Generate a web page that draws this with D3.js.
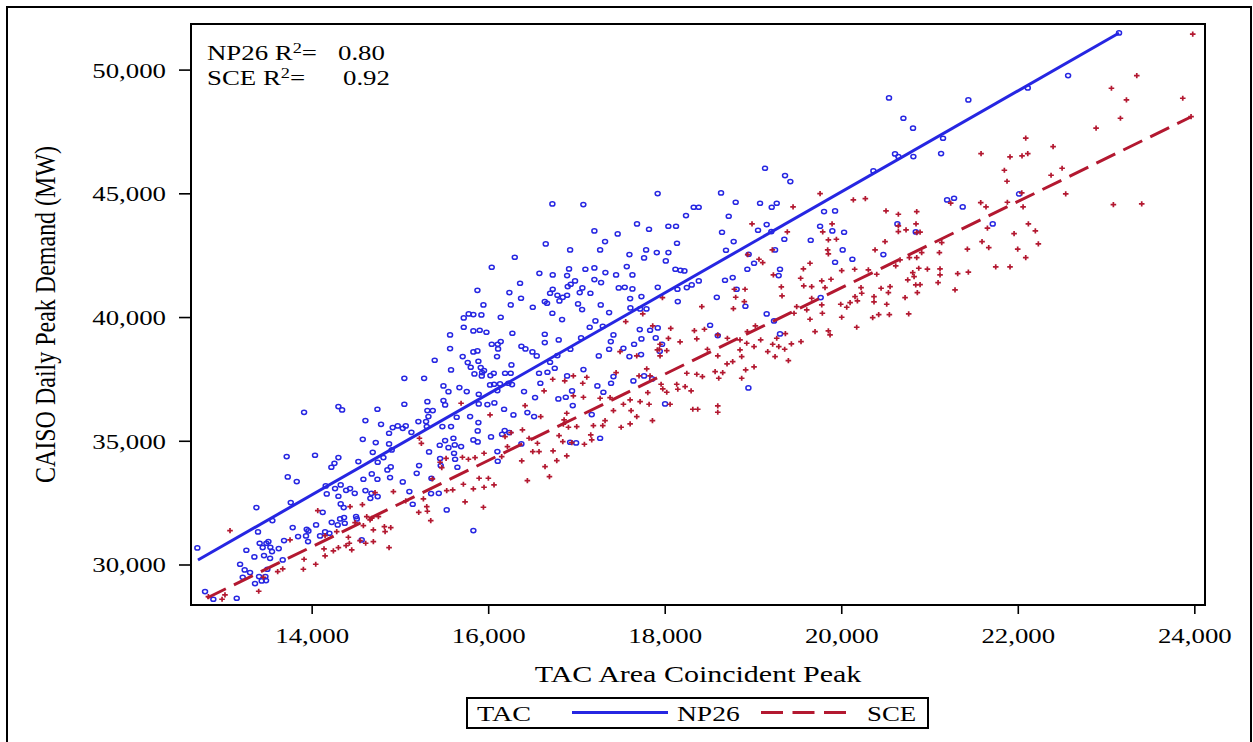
<!DOCTYPE html>
<html>
<head>
<meta charset="utf-8">
<script src="https://cdn.jsdelivr.net/npm/d3@7"></script>
<style>
  body { margin: 0; background: #fff; }
  svg { display: block; }
  text { font-family: "Liberation Serif", "Times New Roman", serif; fill: #000; }
</style>
</head>
<body>
<svg id="chart"></svg>
<script>
// TAC area coincident peak (x) vs CAISO daily peak demand (y)
const np26Points = [
  [15050,37525],[15274,37525],[15493,37215],[15550,36986],[13914,36151],[14303,36380],[14345,36246],[14745,36273],
  [15050,36475],[15311,36582],[15493,36623],[15512,36448],[15311,36219],[15372,36219],[15323,35976],[14609,35815],
  [14786,35666],[14918,35532],[14975,35599],[15032,35505],[15066,35599],[15130,35343],[15209,35774],[15296,35774],
  [15304,35572],[15481,35572],[14579,35060],[14726,34926],[14877,35303],[14877,34872],[14907,34629],[14692,34535],
  [14813,34319],[14748,34131],[14529,34158],[14303,34319],[14258,34090],[14223,33929],[14038,34414],[13717,34360],
  [13729,33538],[13831,33350],[14896,33942],[14858,33821],[14888,33511],[14681,33659],[14586,33444],[14745,33444],
  [15032,33336],[15190,33686],[15217,33996],[15330,34548],[15451,34818],[15512,35006],[15550,34723],[15455,34279],
  [15462,33996],[14159,33174],[14171,32851],[14265,33067],[14329,33215],[14390,32999],[14435,33067],[14488,32878],
  [14609,32986],[14677,32878],[14665,32676],[14748,32743],[14303,32757],[14329,32447],[14363,32299],[14125,32110],
  [13555,31774],[13374,32299],[13763,32501],[15107,32945],[15145,32434],[15357,33484],[15353,32865],[15440,32878],
  [15530,32205],[14322,31841],[14367,31895],[14503,31935],[14511,31841],[14375,31666],[14227,31706],[14050,31598],
  [13944,31423],[13963,31356],[14152,31316],[13785,31491],[13392,31316],[13846,31127],[13936,31154],[13959,30925],
  [14095,31154],[14201,31262],[13687,30965],[13627,30642],[13510,30925],[13487,30858],[13411,30858],[13445,30683],
  [13532,30696],[13551,30521],[13260,30575],[13351,30305],[13460,30359],[13529,30251],[13672,30184],[13189,30009],
  [13241,29780],[13302,29672],[13498,29807],[13404,29511],[13476,29511],[13434,29336],[13483,29349],[13358,29228],
  [13219,29484],[12792,28905],[12886,28595],[13151,28635],[12705,30669],[14567,30992],[14295,31598],
  [16301,42416],[16928,42712],[17268,42712],[17600,42523],[17789,42712],[17910,42604],[18042,42604],[17766,42389],
  [18012,42268],[16040,42012],[16580,41769],[16731,41702],[16916,41944],[17101,41931],[17203,41985],[17328,41796],
  [17449,41702],[17570,42038],[17634,41702],[16894,41675],[16984,41459],[16935,41325],[16901,41230],[17067,41177],
  [17037,40988],[17158,40961],[17203,41513],[17279,41392],[17479,41177],[17547,41203],[17634,41136],[17921,41203],
  [18121,41931],[18178,41890],[18223,41863],[18386,41459],[18306,41298],[18250,41190],[18144,41123],[18148,40624],
  [18590,40799],[15878,41082],[16361,41365],[16240,40988],[16372,40759],[16701,40961],[16731,41123],[16784,40880],
  [16894,40880],[16641,40624],[16667,40557],[16807,40651],[16845,40799],[17018,40530],[17064,40301],[17275,40490],
  [17608,40746],[17736,40826],[17611,40368],[17721,40328],[17793,40328],[16505,40395],[16255,40490],[15946,40490],
  [16727,40153],[16837,39897],[17215,39843],[17150,39587],[17370,40180],[17298,39627],[17717,39493],[17834,39466],
  [17921,39560],[17419,39277],[17389,39008],[17370,38698],[17532,38738],[17600,38402],[17653,38900],[17736,39116],
  [17898,39156],[17970,38900],[17944,38617],[17732,38482],[18514,39668],[18601,39250],[15723,39964],[15779,40126],
  [15832,40099],[15923,40085],[16142,39991],[15723,39587],[15832,39439],[15904,39466],[15980,39385],[16274,39345],
  [16641,39304],[16641,38967],[16799,39075],[17052,39156],[16931,38698],[16784,38442],[16701,38173],[16754,37930],
  [17079,37876],[17253,38429],[16376,38819],[16422,38711],[16501,38590],[16550,38429],[15568,39277],[15568,38725],
  [15394,38254],[15711,38402],[15832,38590],[15878,38630],[16142,39008],[16108,38900],[16040,38900],[16112,38711],
  [16100,38402],[15768,38159],[15889,38213],[15802,37971],[15915,37957],[16263,38065],[15953,37836],[15844,37701],
  [15931,37755],[15927,37620],[16025,37634],[16063,37728],[16191,37728],[16255,37728],[16576,37728],[16671,37769],
  [16591,37324],[16894,37620],[15579,37863],[15674,37149],[15757,36987],[15893,36880],[16021,37257],[16066,37284],
  [16104,37028],[16134,37297],[16229,37324],[16270,37270],[16406,36987],[16531,36745],[16795,36691],[16879,36758],
  [16950,37014],[16958,36422],[17305,36960],[17645,37418],[17766,37620],[17857,37499],[17392,37324],[17419,37593],
  [17237,37216],[17173,36058],[17268,35101],[16928,34940],[16996,34913],[16180,36273],[16286,36044],[16444,36139],
  [16520,35977],[15991,36462],[16070,36529],[15893,36489],[15643,35950],[15795,35977],[15889,35735],[15881,35398],
  [16032,35155],[16157,35263],[16187,35411],[16240,35330],[16376,34872],[16104,34563],[16108,34172],[15832,35034],
  [15881,34953],[15579,35573],[15606,35101],[15621,34832],[15693,34765],[15613,34495],[15625,34253],[15651,33929],
  [15832,31370],[18004,36489],
  [19136,46013],[19363,45717],[19423,45474],[17920,44989],[18638,45016],[18328,44437],[18385,44437],[18804,44639],
  [19080,44599],[19212,44437],[19269,44599],[18241,44100],[18725,44073],[19805,44262],[19930,44289],[17822,43548],
  [18041,43669],[18128,43669],[18649,43427],[19057,43508],[19155,43737],[19208,43454],[19355,43144],[19654,43104],
  [19760,43669],[19899,43481],[20032,43427],[18139,42982],[18781,43050],[18694,42700],[20016,42713],[20126,42336],
  [19930,42215],[20477,42524],[20609,46592],[20647,46485],[20817,46485],[20364,45905],[20636,43764],[20844,43440],
  [18951,42538],[19012,42174],[18936,41932],[19250,42713],[19306,41932],[19291,41676],[18770,41595],[18683,41487],
  [18815,41124],[18914,40437],[19155,40127],[19238,39844],[19306,39319],[18948,37136],[19767,40787],
  [22570,49759],[22113,49261],[21440,48776],[20704,48035],[20813,47631],[21153,47226],[21131,46607],[21199,44735],
  [21278,44802],[21376,44452],[22014,44977],[21716,43765],[23147,51483],[20541,48856],
  [16727,44573],[17078,44546],[17203,43482],[17324,43050],[17467,43360],[17686,43765],[16652,42956]
];

const scePoints = [
  [13075,31369],[12985,28595],[13400,28918],[13453,29484],[13615,29713],[13672,29820],[13755,30992],[13906,29807],
  [13914,30211],[14046,30009],[14152,30346],[14140,30629],[14246,30548],[14303,30683],[14390,30763],[14454,30588],
  [14416,31100],[14427,30858],[14548,30965],[14612,30858],[14699,30925],[14877,30683],[14069,32178],[14152,31167],
  [14284,31329],[14435,32339],[14575,32420],[14492,31693],[14586,31571],[14624,31935],[14662,31800],[14699,31396],
  [14824,31531],[14832,31329],[14896,31491],[14926,32945],[14718,32905],[14681,31868],[14756,31935],[15066,32568],
  [15213,32110],[15311,32151],[15266,32649],[15349,31774],[15304,32339],[15368,33457],[15455,34131],[15523,34292],
  [15474,33915],[15221,35101],[15243,34898],[15530,32986],[13018,28770],[12830,28700],
  [17974,40786],[18420,40422],[17751,40126],[17558,39816],[17864,39641],[18068,39546],[18336,39452],[18450,39506],
  [18601,39277],[18042,39142],[18174,38994],[18363,39116],[17947,38900],[17940,38698],[18023,38644],[17917,38671],
  [17494,38604],[17683,38429],[17947,38429],[18484,38698],[18601,38429],[17796,37903],[17449,37755],[17709,37620],
  [17834,37620],[18250,37728],[18363,37688],[18427,37593],[18571,37796],[18612,37526],[17959,37284],[18136,37284],
  [18231,37189],[17978,37095],[18023,36960],[18148,37082],[18299,37014],[17808,36947],[17823,36475],[18061,36475],
  [18318,36273],[18374,36273],[18601,36408],[18601,36152],[17861,35815],[17506,35546],[17608,35681],[17419,36219],
  [17619,36219],[17683,35977],[17532,36475],[17721,36583],[17608,36651],[17381,36745],[17268,36718],[17079,36758],
  [16965,36812],[17071,37324],[17117,37567],[16731,37486],[16867,37418],[16965,37620],[16633,37014],[16418,36422],
  [16595,35977],[16021,36044],[15693,36516],[16890,36112],[16860,35842],[16852,35667],[16909,35546],[17003,35573],
  [17192,35613],[17298,35613],[17324,35815],[17162,35236],[17173,35034],[17090,34859],[16845,34967],[16803,35209],
  [16947,34926],[16735,34590],[16777,34199],[16890,34388],[16644,33957],[16694,33552],[16444,33391],[16380,34186],
  [16505,34563],[16576,34563],[16558,34899],[16463,35101],[16388,35438],[16259,35330],[16191,35169],[16153,34361],
  [16218,34765],[15953,34495],[15851,34320],[15776,34253],[15708,34334],[15897,33485],[16002,33485],[15953,33121],
  [16066,33216],[15832,33054],[15719,33243],[15598,33014],[15738,32529],[15946,32313],
  [19760,44989],[19454,44451],[20137,44733],[20273,44787],[20507,44289],[20647,44154],[20855,44262],[18989,43764],
  [19389,43440],[19790,43440],[19896,43764],[19854,43117],[19945,43144],[19846,42713],[19854,42551],[20496,43050],
  [20383,42713],[20647,43683],[20647,43454],[20734,43521],[20847,43764],[20855,43413],[19219,42713],[18940,42524],
  [19068,42336],[19110,42201],[19646,42174],[19571,41945],[19540,41568],[19779,41460],[19884,41528],[20005,41878],
  [20152,41932],[20307,41905],[20402,41730],[20617,42066],[20772,42403],[20666,42309],[20855,42403],[20878,41972],
  [20810,41797],[20825,41635],[20753,41501],[20844,41298],[20862,40989],[20723,40787],[20553,41231],[20451,41164],
  [20534,40989],[20515,40518],[20371,40827],[20371,40612],[20224,41191],[20232,40962],[20156,40827],[19994,40518],
  [20062,40396],[20100,40585],[20183,40652],[20356,39979],[20424,40100],[20545,40100],[20764,40127],[20175,39588],
  [20005,39992],[19779,40491],[19786,40154],[19646,39911],[19703,39413],[19854,39440],[19873,39278],[19544,39009],
  [19401,38241],[19359,38699],[19292,38807],[19250,38403],[19167,38605],[19223,38901],[19269,39143],[19367,39332],
  [19435,38914],[19231,41703],[19321,41218],[19329,40854],[19575,41258],[19665,41231],[19816,41191],[19665,40760],
  [19609,40288],[19465,40154],[19495,40423],[18789,41124],[18910,41124],[18804,40800],[18902,40625],[18778,40342],
  [18936,39413],[19027,39642],[18853,39076],[18853,38672],[18929,38941],[19087,39076],[19012,38807],[18872,38403],
  [19012,37985],[18917,37864],[18872,37527],[18657,37756],[18706,38106],[18770,38201],[18710,39143],
  [23348,49759],[23061,49247],[23231,48776],[23869,48843],[23163,48035],[22887,47631],[23963,48102],[22090,47227],
  [22400,46890],[21584,46607],[21912,46472],[22048,46513],[22113,46607],[21848,45933],[21878,45489],[22502,46014],
  [22377,45731],[22543,44977],[22045,45018],[21882,44640],[21580,44627],[21640,44452],[21240,44600],[22060,44452],
  [23083,44546],[23404,44573],[20893,43428],[22120,43765],[22199,43482],[21958,43374],[22233,42957],[21999,42741],
  [22090,42404],[21671,42808],[21595,43051],[21656,43590],[21429,42741],[21750,42027],[21912,42027],[21440,41812],
  [21319,41758],[21119,41946],[20976,41933],[21119,41704],[21097,41394],[21289,41098],[20893,41313],[21138,43010],
  [21112,42606],[20911,42606],[23982,51431]
];

// fitted lines, end points
const np26Fit = [[12712, 30182], [23147, 51479]];
const sceFit = [[12814, 28646], [23960, 48084]];

const xTicks = [14000, 16000, 18000, 20000, 22000, 24000];
const yTicks = [30000, 35000, 40000, 45000, 50000];
const r2Labels = [["NP26", "0.80"], ["SCE", "0.92"]];

const width = 1253, height = 742;
const plot = { left: 191, right: 1205, top: 24, bottom: 605 };
const blue = "#2626e2";
const red = "#b31830";
const serif = '"Liberation Serif", "Times New Roman", serif';
const stretch = 1.22; // the picture is a bit wider than tall

const svg = d3.select("#chart")
  .attr("width", width).attr("height", height)
  .style("font-family", serif);

svg.append("rect")
  .attr("x", 7).attr("y", 7).attr("width", 1244).attr("height", 760)
  .attr("fill", "none").attr("stroke", "#000").attr("stroke-width", 2);

const x = d3.scaleLinear().domain([12633, 24121]).range([plot.left, plot.right]);
const y = d3.scaleLinear().domain([28363, 51843]).range([plot.bottom, plot.top]);

// X axis
const xAxis = svg.append("g")
  .attr("transform", `translate(0,${plot.bottom})`)
  .call(d3.axisBottom(x).tickValues(xTicks).tickFormat(d3.format(",")).tickSize(9).tickSizeOuter(0));
xAxis.attr("font-family", null);
xAxis.select(".domain").remove();
xAxis.selectAll(".tick line").attr("stroke", "#000").attr("stroke-width", 1.6);
xAxis.selectAll(".tick text")
  .attr("y", null).attr("dy", null)
  .attr("transform", `translate(0,38) scale(${stretch},1)`)
  .style("font-size", "22px").style("font-family", serif).attr("fill", "#000");

// Y axis
const yAxis = svg.append("g")
  .attr("transform", `translate(${plot.left},0)`)
  .call(d3.axisLeft(y).tickValues(yTicks).tickFormat(d3.format(",")).tickSize(12).tickSizeOuter(0));
yAxis.attr("font-family", null);
yAxis.select(".domain").remove();
yAxis.selectAll(".tick line").attr("stroke", "#000").attr("stroke-width", 1.6);
yAxis.selectAll(".tick text")
  .attr("x", null).attr("dy", null)
  .attr("transform", `translate(-25,7.5) scale(${stretch},1)`)
  .style("font-size", "22px").style("font-family", serif).attr("fill", "#000");

// markers
svg.append("g").selectAll("ellipse")
  .data(np26Points)
  .join("ellipse")
  .attr("cx", d => x(d[0]))
  .attr("cy", d => y(d[1]))
  .attr("rx", 2.5).attr("ry", 2.1)
  .attr("fill", "none").attr("stroke", blue).attr("stroke-width", 1.5);

svg.append("g").selectAll("path")
  .data(scePoints)
  .join("path")
  .attr("d", d => {
    const cx = x(d[0]), cy = y(d[1]);
    return `M${cx - 2.8},${cy}H${cx + 2.8}M${cx},${cy - 2.6}V${cy + 2.6}`;
  })
  .attr("stroke", red).attr("stroke-width", 1.7);

// fit lines
const line = d3.line().x(d => x(d[0])).y(d => y(d[1]));
svg.append("path").datum(np26Fit).attr("d", line)
  .attr("stroke", blue).attr("stroke-width", 3).attr("fill", "none");
svg.append("path").datum(sceFit).attr("d", line)
  .attr("stroke", red).attr("stroke-width", 3).attr("fill", "none")
  .attr("stroke-dasharray", "21,9");

// plot frame
svg.append("rect")
  .attr("x", plot.left).attr("y", plot.top)
  .attr("width", plot.right - plot.left).attr("height", plot.bottom - plot.top)
  .attr("fill", "none").attr("stroke", "#000").attr("stroke-width", 2);

// R² labels, one text block
const r2 = svg.append("text")
  .attr("transform", `translate(207,59.5) scale(${stretch},1)`)
  .style("font-size", "22px").style("font-family", serif);
r2Labels.forEach((r, i) => {
  r2.append("tspan").attr("x", 0).attr("y", i * 25.5).text(r[0] + " R");
  r2.append("tspan").attr("dy", -7).style("font-size", "15px").text("2");
  r2.append("tspan").attr("dy", 7).text("=");
  r2.append("tspan").attr("x", (131 + i * 5) / stretch).attr("y", i * 25.5).text(r[1]);
});

// axis titles
svg.append("text")
  .attr("transform", `translate(${(plot.left + plot.right) / 2},682) scale(1.25,1)`)
  .attr("text-anchor", "middle")
  .style("font-size", "24px").style("font-family", serif)
  .text("TAC Area Coincident Peak");

svg.append("text")
  .attr("transform", `translate(55,${(plot.top + plot.bottom) / 2}) scale(1.2,1) rotate(-90)`)
  .attr("text-anchor", "middle")
  .style("font-size", "24px").style("font-family", serif)
  .text("CAISO Daily Peak Demand (MW)");

// legend
const lg = svg.append("g").style("font-family", serif);
lg.append("rect")
  .attr("x", 467).attr("y", 698).attr("width", 461).attr("height", 30)
  .attr("fill", "#fff").attr("stroke", "#000").attr("stroke-width", 2);
lg.append("text").attr("transform", "translate(477,721) scale(1.28,1)").style("font-size", "22px").text("TAC");
lg.append("line").attr("x1", 572).attr("x2", 668).attr("y1", 712.5).attr("y2", 712.5)
  .attr("stroke", blue).attr("stroke-width", 3);
lg.append("text").attr("transform", "translate(677,721) scale(1.25,1)").style("font-size", "22px").text("NP26");
lg.append("line").attr("x1", 761).attr("x2", 846).attr("y1", 712.5).attr("y2", 712.5)
  .attr("stroke", red).attr("stroke-width", 3).attr("stroke-dasharray", "22,9.5");
lg.append("text").attr("transform", "translate(867,721) scale(1.22,1)").style("font-size", "22px").text("SCE");
</script>
</body>
</html>
